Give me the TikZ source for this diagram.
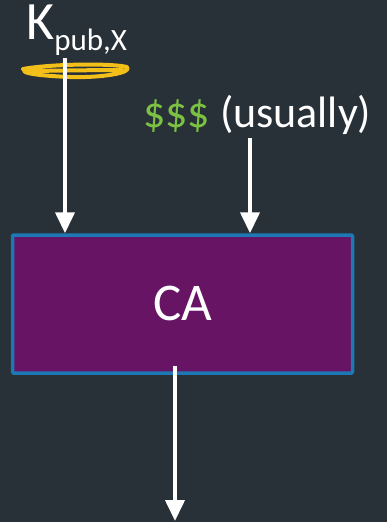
\documentclass[tikz,border=0pt]{standalone}
\usepackage{fontspec}
\setmainfont{Carlito}
\usetikzlibrary{arrows.meta}
\definecolor{bg}{HTML}{283038}
\definecolor{capurple}{HTML}{661463}
\definecolor{caborder}{HTML}{1E78B4}
\definecolor{money}{HTML}{7CC242}
\definecolor{marker}{HTML}{F2C019}
\tikzset{
  flow/.style={draw=white, line width=4pt, -{Triangle[width=19pt,length=21pt]}},
  label/.style={text=white, inner sep=0pt, anchor=base west},
  cabox/.style={draw=caborder, line width=3.5pt, fill=capurple, rounded corners=1pt,
    text=white, inner sep=0pt, font=\fontsize{53}{53}\selectfont},
}
\begin{document}
\begin{tikzpicture}[x=1pt, y=-1pt]
  \fill[bg] (0,0) rectangle (387,522);
  \useasboundingbox (0,0) rectangle (387,522);

  % the CA box
  \node[cabox, minimum width=340pt, minimum height=138pt] (ca) at (182.5,304) {};
  \node[text=white, inner sep=0pt, anchor=base, font=\fontsize{53}{53}\selectfont] (calabel) at (183,320) {CA};

  % public key label and its highlight
  \node[label, font=\fontsize{54}{54}\selectfont] (kpub) at (26,39) {K\raisebox{-11pt}{\fontsize{31}{31}\selectfont pub,X}};
  \draw[marker, line width=4pt, line cap=round, line join=round]
    (23,69) .. controls (50,64) and (110,63) .. (127,67)
    .. controls (133,73) and (100,78) .. (70,77)
    .. controls (45,76) and (26,74) .. (24,71)
    .. controls (40,71) and (90,70) .. (122,70);

  % payment label
  \node[label, font=\fontsize{44}{44}\selectfont] (pay) at (143,127) {\textcolor{money}{\$\$\$} (usually)};

  \coordinate (kstart) at (65,58);
  \coordinate (paystart) at (250,138);
  \coordinate (outstart) at (175,366);
  \coordinate (outend) at (175,521);

  % connectors
  \draw[flow] (kstart) -- (kstart |- ca.north);
  \draw[flow] (paystart) -- (paystart |- ca.north);
  \draw[flow] (outstart) -- (outend);
\end{tikzpicture}
\end{document}
